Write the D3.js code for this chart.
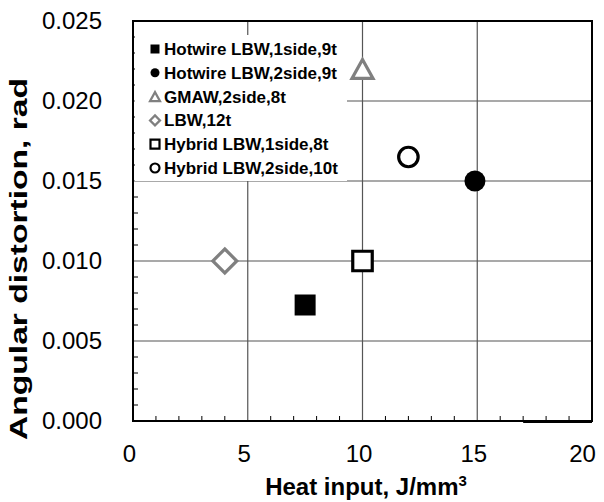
<!DOCTYPE html>
<html>
<head>
<meta charset="utf-8">
<script src="https://cdn.jsdelivr.net/npm/d3@7"></script>
<style>
  body { margin: 0; background: #fff; }
  svg { display: block; font-family: "Liberation Sans", Arial, sans-serif; }
</style>
</head>
<body>
<div id="chart"></div>
<script>
(function() {
    'use strict';

    // Data
    var seriesNames = ['Hotwire LBW,1side,9t', 'Hotwire LBW,2side,9t', 'GMAW,2side,8t',
                       'LBW,12t', 'Hybrid LBW,1side,8t', 'Hybrid LBW,2side,10t'];
    var heatInput = [7.5, 14.9, 10.0, 4.0, 10.0, 12.0];
    var distortion = [0.00725, 0.0150, 0.0220, 0.0100, 0.0100, 0.0165];
    var markerShapes = ['square', 'circle', 'triangle', 'diamond', 'square', 'circle'];
    var markerFilled = [true, true, false, false, false, false];
    var markerColors = ['#000', '#000', '#808080', '#808080', '#000', '#000'];
    var xTicks = [0, 5, 10, 15, 20];
    var yTicks = [0, 0.005, 0.010, 0.015, 0.020, 0.025];

    var width = 604, height = 502;
    var margin = { left: 133, right: 12, top: 21, bottom: 81 };

    var svg = d3.select('#chart').append('svg')
        .attr('width', width)
        .attr('height', height);

    var x = d3.scaleLinear().domain([0, 20]).range([margin.left, width - margin.right]);
    var y = d3.scaleLinear().domain([0, 0.025]).range([height - margin.bottom, margin.top]);

    var x0 = x(0), x1 = x(20), y0 = y(0), y1 = y(0.025);

    // Gridlines
    var grid = svg.append('g').attr('stroke', '#555').attr('stroke-width', 1.2);
    grid.selectAll('.gx').data(xTicks.slice(1, -1)).join('line')
        .attr('x1', function(d) { return x(d); }).attr('x2', function(d) { return x(d); })
        .attr('y1', y0).attr('y2', y1);
    grid.selectAll('.gy').data(yTicks.slice(1, -1)).join('line')
        .attr('y1', function(d) { return y(d); }).attr('y2', function(d) { return y(d); })
        .attr('x1', x0).attr('x2', x1);

    // Minor ticks (inward)
    var minorX = d3.range(1, 20).filter(function(v) { return v % 5 !== 0; });
    var minorY = d3.range(1, 25).filter(function(v) { return v % 5 !== 0; }).map(function(v) { return v / 1000; });
    svg.append('g').attr('stroke', '#000').attr('stroke-width', 1)
        .selectAll('line').data(minorX).join('line')
        .attr('x1', function(d) { return x(d); }).attr('x2', function(d) { return x(d); })
        .attr('y1', y0).attr('y2', y0 - 5);
    svg.append('g').attr('stroke', '#000').attr('stroke-width', 1)
        .selectAll('line').data(minorY).join('line')
        .attr('y1', function(d) { return y(d); }).attr('y2', function(d) { return y(d); })
        .attr('x1', x0).attr('x2', x0 + 5);

    // Frame
    svg.append('rect')
        .attr('x', x0).attr('y', y1)
        .attr('width', x1 - x0).attr('height', y0 - y1)
        .attr('fill', 'none').attr('stroke', '#000').attr('stroke-width', 2);
    svg.append('line')
        .attr('x1', x(17)).attr('x2', x1)
        .attr('y1', y0 + 1).attr('y2', y0 + 1)
        .attr('stroke', '#000').attr('stroke-width', 2);

    // Tick labels via d3 axes (no domain, no ticks)
    var xAxis = svg.append('g')
        .attr('transform', 'translate(0,' + y0 + ')')
        .call(d3.axisBottom(x).tickValues(xTicks).tickSize(0).tickPadding(24).tickFormat(d3.format('d')));
    xAxis.select('.domain').remove();
    xAxis.selectAll('text').attr('font-size', 24).attr('fill', '#000')
        .attr('font-family', '"Liberation Sans", Arial, sans-serif')
        .attr('dx', function(d) { return d === 20 ? -10 : -4; });

    var yAxis = svg.append('g')
        .attr('transform', 'translate(' + x0 + ',0)')
        .call(d3.axisLeft(y).tickValues(yTicks).tickSize(0).tickPadding(31).tickFormat(d3.format('.3f')));
    yAxis.select('.domain').remove();
    yAxis.selectAll('text').attr('font-size', 24).attr('fill', '#000')
        .attr('font-family', '"Liberation Sans", Arial, sans-serif');

    // Axis titles
    var xt = svg.append('text')
        .attr('x', 366).attr('y', 495)
        .attr('text-anchor', 'middle')
        .attr('font-size', 24).attr('font-weight', 'bold');
    xt.append('tspan').text('Heat input, J/mm');
    xt.append('tspan').attr('font-size', 15).attr('dy', -9).text('3');

    svg.append('text')
        .attr('transform', 'translate(27,259) rotate(-90)')
        .attr('text-anchor', 'middle')
        .attr('font-size', 24.5).attr('font-weight', 'bold')
        .attr('textLength', 362).attr('lengthAdjust', 'spacingAndGlyphs')
        .text('Angular distortion, rad');

    // Legend box (white, covers gridlines)
    var legendX = x0 + 2, legendY = 35;
    svg.append('rect')
        .attr('x', legendX).attr('y', legendY)
        .attr('width', 212).attr('height', 146)
        .attr('fill', '#fff');

    function symbolPath(shape, size) {
        var s = size / 2;
        if (shape === 'square') return 'M' + (-s) + ',' + (-s) + 'h' + size + 'v' + size + 'h' + (-size) + 'Z';
        if (shape === 'diamond') return 'M0,' + (-s) + 'L' + s + ',0L0,' + s + 'L' + (-s) + ',0Z';
        if (shape === 'triangle') {
            var h = size * 0.9;
            return 'M0,' + (-h / 2) + 'L' + s + ',' + (h / 2) + 'L' + (-s) + ',' + (h / 2) + 'Z';
        }
        return 'M' + s + ',0A' + s + ',' + s + ' 0 1,1 ' + (-s) + ',0A' + s + ',' + s + ' 0 1,1 ' + s + ',0Z';
    }

    var data = seriesNames.map(function(name, i) {
        return { name: name, x: heatInput[i], y: distortion[i], shape: markerShapes[i],
                 filled: markerFilled[i], color: markerColors[i] };
    });

    // Plot markers
    svg.append('g').selectAll('path').data(data).join('path')
        .attr('transform', function(d) { return 'translate(' + x(d.x) + ',' + y(d.y) + ')'; })
        .attr('d', function(d) {
            if (d.shape === 'triangle') return symbolPath(d.shape, 21);
            if (d.shape === 'diamond') return symbolPath(d.shape, 24);
            return symbolPath(d.shape, d.filled ? 21 : 19.5);
        })
        .attr('fill', function(d) { return d.filled ? d.color : '#fff'; })
        .attr('stroke', function(d) { return d.color; })
        .attr('stroke-width', function(d) { return d.filled ? 0 : 3.2; });

    // Legend entries
    var rowStep = 23.8;
    var leg = svg.append('g').selectAll('g').data(data).join('g')
        .attr('transform', function(d, i) { return 'translate(155,' + (49 + i * rowStep) + ')'; });
    leg.append('path')
        .attr('d', function(d) { return symbolPath(d.shape, d.shape === 'triangle' || d.shape === 'diamond' ? 10 : 9); })
        .attr('fill', function(d) { return d.filled ? d.color : '#fff'; })
        .attr('stroke', function(d) { return d.color; })
        .attr('stroke-width', function(d) { return d.filled ? 0 : 2.2; });
    leg.append('text')
        .attr('x', 9).attr('y', 6)
        .attr('font-size', 17).attr('font-weight', 'bold')
        .text(function(d) { return d.name; });
})();
</script>
</body>
</html>
